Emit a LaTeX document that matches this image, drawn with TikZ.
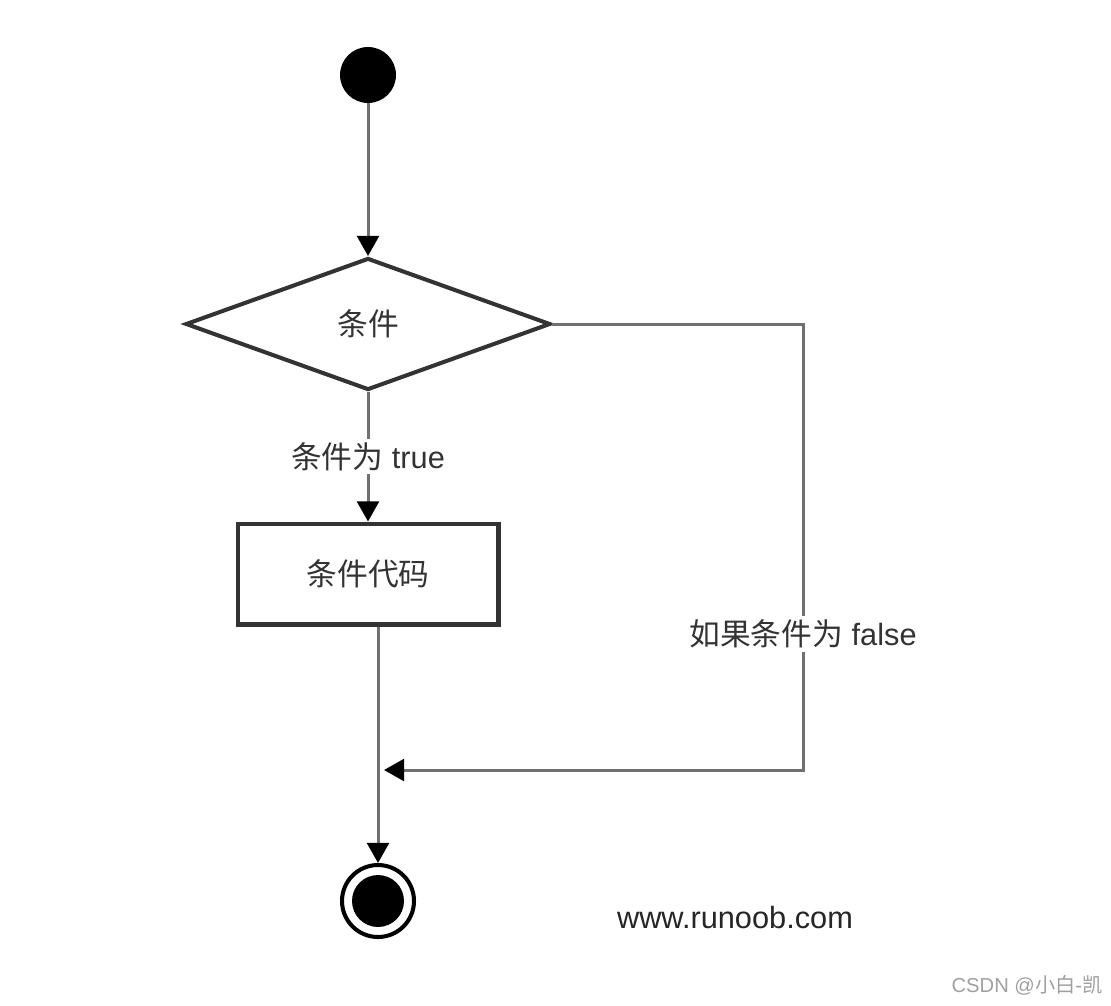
\documentclass[tikz,border=0pt]{standalone}
\usepackage{fontspec}
\setmainfont{Liberation Sans}
\newfontfamily\cjk{Noto Sans CJK SC}
\usetikzlibrary{shapes.geometric,arrows.meta}
\definecolor{linegray}{HTML}{707070}
\definecolor{bordergray}{HTML}{333333}
\definecolor{textgray}{HTML}{333333}
\definecolor{markgray}{HTML}{A0A0A0}

\begin{document}
\begin{tikzpicture}[
  x=0.02cm,
  y=-0.02cm,
  line join=miter,
  font=\fontsize{17.5}{21}\selectfont,
  text=textgray,
  startdot/.style={circle,fill=black,inner sep=0pt,minimum size=1.12cm},
  endring/.style={circle,draw=black,line width=2.3pt,inner sep=0pt,
    minimum size=1.44cm},
  enddot/.style={circle,fill=black,inner sep=0pt,minimum size=1.04cm},
  decision/.style={diamond,draw=bordergray,line width=2.3pt,inner sep=0pt,
    minimum width=7.3cm,minimum height=2.64cm},
  action/.style={rectangle,draw=bordergray,line width=2.3pt,
    minimum width=5.22cm,minimum height=2.02cm},
  link/.style={draw=linegray,line width=1.7pt},
  flow/.style={link,-{Triangle[length=11.5pt,width=12.5pt,color=black]}},
  flowlabel/.style={fill=white,inner sep=2pt},
  sitetext/.style={text=black!85},
  watermark/.style={text=markgray,font=\fontsize{11.5}{14}\selectfont}
]
  \useasboundingbox[fill=white] (0,0) rectangle (1111,1005);

  % Start, decision and action.
  \node[startdot] (start) at (368,75) {};
  \node[decision] (cond) at (368,324) {\cjk 条件};
  \node[action] (code) at (368,574) {\cjk 条件代码};

  % Final state.
  \node[endring] (stop) at (378,901) {};
  \node[enddot] (stopdot) at (stop) {};

  % Corners of the false branch.
  \coordinate (turnA) at (803,324);
  \coordinate (turnB) at (803,770);
  \coordinate (merge) at (384,770);

  \draw[flow] (start) -- (cond.north);
  \draw[flow] (cond.south) --
    node[flowlabel] {{\cjk 条件为} true} (code.north);
  \draw[flow] (cond.east) -- (turnA) --
    node[flowlabel,pos=0.695] {{\cjk 如果条件为} false} (turnB) -- (merge);
  \draw[flow] (code.south -| stop.north) -- (stop.north);

  \node[sitetext] (site) at (735,917) {www.runoob.com};
  \node[watermark] (csdn) at (1027,985) {CSDN @{\cjk 小白}-{\cjk 凯}};
\end{tikzpicture}
\end{document}
